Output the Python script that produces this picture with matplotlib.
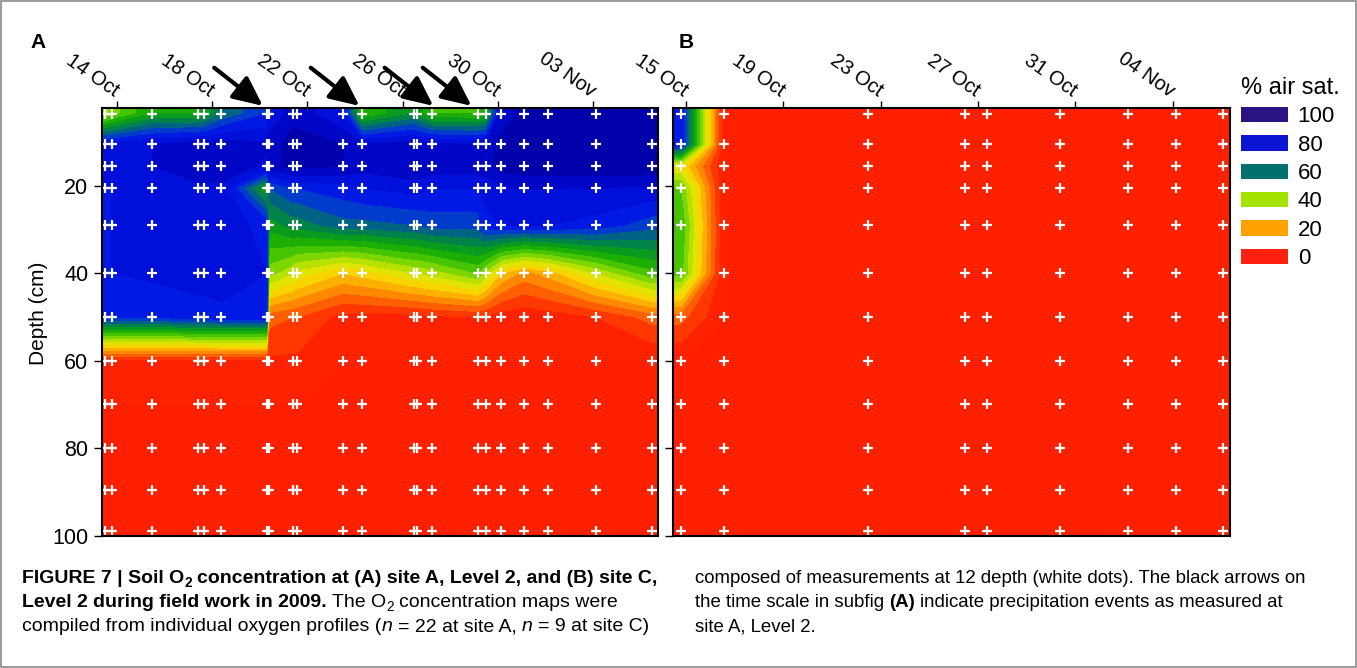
import numpy as np
import matplotlib
matplotlib.use('Agg')
import matplotlib.pyplot as plt
from matplotlib.colors import LinearSegmentedColormap
from matplotlib.patches import Patch, Rectangle

plt.rcParams['font.family'] = ['Liberation Sans', 'DejaVu Sans']

# measurement depths (cm), shared by both sites
depths = [3.5, 10.5, 15.5, 20.5, 29, 40, 50, 60, 70, 80, 89.5, 99]

# site A: profile times (days after 14 Oct) and O2 (% air sat.), one row per depth
days_a = [-0.49, -0.21, 1.49, 3.42, 3.68, 4.38, 6.30, 6.40, 7.41, 7.55, 9.51,
          10.28, 12.49, 12.60, 13.24, 15.15, 15.49, 16.11, 17.10, 18.11, 20.10, 22.45]
o2_a = [
    [38, 42, 55, 55, 56, 65, 75, 80, 88, 88, 80, 50, 60, 58, 50, 50, 52, 85, 93, 95, 95, 95],
    [82, 82, 85, 88, 88, 88, 86, 88, 92, 92, 90, 85, 88, 88, 86, 85, 86, 92, 95, 95, 95, 95],
    [82, 82, 85, 88, 88, 88, 84, 88, 92, 92, 90, 87, 90, 90, 88, 88, 88, 92, 94, 94, 94, 94],
    [80, 80, 82, 84, 84, 84, 55, 70, 75, 75, 78, 80, 82, 82, 80, 80, 82, 84, 85, 85, 85, 84],
    [80, 80, 82, 83, 83, 83, 78, 57, 62, 62, 68, 68, 70, 70, 72, 72, 78, 80, 80, 80, 78, 72],
    [80, 80, 81, 82, 82, 82, 80, 42, 35, 33, 25, 27, 35, 35, 37, 45, 38, 25, 18, 22, 35, 48],
    [75, 75, 76, 78, 78, 79, 79, 12, 10, 10, 3, 3, 3, 3, 4, 5, 4, 2, 1, 2, 5, 12],
    [3, 3, 3, 3, 3, 3, 3, 4, 4, 4, 0, 0, 0, 0, 0, 0, 0, 0, 0, 0, 0, 0],
    [0] * 22,
    [0] * 22,
    [0] * 22,
    [0] * 22,
]

# site C: profile times (days after 15 Oct)
days_b = [-0.22, 1.56, 7.49, 11.47, 12.36, 15.37, 18.18, 20.14, 22.08]
o2_b = [
    [80, 0, 0, 0, 0, 0, 0, 0, 0],
    [80, 0, 0, 0, 0, 0, 0, 0, 0],
    [30, 0, 0, 0, 0, 0, 0, 0, 0],
    [45, 0, 0, 0, 0, 0, 0, 0, 0],
    [50, 0, 0, 0, 0, 0, 0, 0, 0],
    [47, 0, 0, 0, 0, 0, 0, 0, 0],
    [12, 0, 0, 0, 0, 0, 0, 0, 0],
    [0] * 9,
    [0] * 9,
    [0] * 9,
    [0] * 9,
    [0] * 9,
]

# precipitation events at site A (days after 14 Oct)
rain_days = [6.25, 10.3, 13.4, 15.0]

ticks = [0, 4, 8, 12, 16, 20]
labels_a = ['14 Oct', '18 Oct', '22 Oct', '26 Oct', '30 Oct', '03 Nov']
labels_b = ['15 Oct', '19 Oct', '23 Oct', '27 Oct', '31 Oct', '04 Nov']
depth_ticks = [20, 40, 60, 80, 100]

legend_values = ['100', '80', '60', '40', '20', '0']
legend_colors = ['#2a1280', '#0a14d2', '#00706e', '#a2e400', '#ffa200', '#ff2010']

cmap = LinearSegmentedColormap.from_list('o2', [
    (0.00, '#ff2000'), (0.05, '#ff2400'), (0.12, '#ff5a00'), (0.20, '#ffa000'),
    (0.30, '#f5e600'), (0.38, '#b4e100'), (0.45, '#5ccf00'), (0.52, '#1fb000'),
    (0.60, '#00922a'), (0.66, '#006e6e'), (0.72, '#0040c8'), (0.78, '#0018e6'),
    (0.86, '#0008d0'), (0.93, '#0000a8'), (1.00, '#0a0a78')])
levels = np.arange(0, 101, 5)

W, H = 1357, 668
fig = plt.figure(figsize=(W / 100, H / 100), dpi=100)


def make_panel(rect, days, o2, xlim, tick_labels, show_ylabels):
    ax = fig.add_axes(rect)
    ylim = (100.1, 2.2)
    # stretch edge profiles out to the frame so the map fills the panel
    x = np.concatenate([[xlim[0]], days, [xlim[1]]])
    y = np.concatenate([[ylim[1]], depths, [ylim[0]]])
    z = np.pad(np.array(o2, dtype=float), 1, mode='edge')
    ax.contourf(x, y, z, levels=levels, cmap=cmap, extend='both')
    dx, dy = np.meshgrid(days, depths)
    ax.plot(dx.ravel(), dy.ravel(), '+', color='white', ms=6.5, mew=1.6)
    ax.set_xlim(xlim)
    ax.set_ylim(ylim)
    ax.xaxis.tick_top()
    ax.set_xticks(ticks)
    ax.set_xticklabels(tick_labels, rotation=-35, ha='right', va='center',
                       rotation_mode='anchor', fontsize=14.5)
    ax.tick_params(axis='x', direction='out', length=5, width=1, pad=6)
    ax.tick_params(axis='y', direction='out', length=6, width=1, pad=4, labelsize=15.5)
    ax.set_yticks(depth_ticks)
    if not show_ylabels:
        ax.set_yticklabels([])
    for sp in ax.spines.values():
        sp.set_linewidth(1.5)
    return ax


ax_a = make_panel([102.3 / W, 1 - 536 / H, 555.4 / W, 428 / H], days_a, o2_a,
                  (-0.60, 22.70), labels_a, True)
ax_a.set_ylabel('Depth (cm)', fontsize=15)
ax_a.yaxis.set_label_coords(-0.098, 0.52)

ax_b = make_panel([673.3 / W, 1 - 536 / H, 556.7 / W, 428 / H], days_b, o2_b,
                  (-0.52, 22.36), labels_b, False)

# precipitation arrows above panel A
for d in rain_days:
    ax_a.annotate('', xy=(d, 1.0), xycoords=('data', 'axes fraction'),
                  xytext=(-37, 29), textcoords='offset points', annotation_clip=False,
                  arrowprops=dict(arrowstyle='-|>,head_length=0.9,head_width=0.42',
                                  color='black', lw=3, mutation_scale=20,
                                  shrinkA=0, shrinkB=2.5))

fig.text(30 / W, 1 - 42 / H, 'A', fontsize=15, fontweight='bold', va='center')
fig.text(679 / W, 1 - 42 / H, 'B', fontsize=15, fontweight='bold', va='center')

handles = [Patch(facecolor=c, edgecolor='none') for c in legend_colors]
leg = fig.legend(handles, legend_values, title='% air sat.', loc='upper left',
                 bbox_to_anchor=(1241 / W, 1 - 77 / H), frameon=False, fontsize=16,
                 title_fontsize=17, handlelength=2.1, handleheight=0.68,
                 labelspacing=0.33, handletextpad=0.45, borderpad=0, borderaxespad=0,
                 alignment='left')

# caption in two columns
cap_font = ['Liberation Sans Narrow', 'Liberation Sans', 'DejaVu Sans']
renderer = fig.canvas.get_renderer()


def space_width(size, **kw):
    t1 = fig.text(0, 0, 'x x', family=cap_font, fontsize=size, **kw)
    t2 = fig.text(0, 0, 'xx', family=cap_font, fontsize=size, **kw)
    w = t1.get_window_extent(renderer).width - t2.get_window_extent(renderer).width
    t1.remove()
    t2.remove()
    return w


def caption_line(x, y, runs, cap_size):
    for text, kw in runs:
        kw = dict(kw)
        sub = kw.pop('sub', False)
        sp = space_width(cap_size, **kw)
        if text.startswith(' '):
            x += sp
        size = cap_size * 0.7 if sub else cap_size
        yy = y + 4 if sub else y
        t = fig.text(x / W, 1 - yy / H, text.strip(), family=cap_font, fontsize=size,
                     va='baseline', ha='left', **kw)
        x += t.get_window_extent(renderer).width
        if text.endswith(' '):
            x += sp


B = dict(fontweight='bold')
N = dict()
I = dict(style='italic')

caption_line(22, 583, [('FIGURE 7 | Soil O', B), ('2', dict(B, sub=True)),
                       (' concentration at (A) site A, Level 2, and (B) site C,', B)], 14)
caption_line(22, 607, [('Level 2 during field work in 2009.', B), (' The O', N),
                       ('2', dict(sub=True)), (' concentration maps were', N)], 14)
caption_line(22, 631, [('compiled from individual oxygen profiles (', N), ('n', I),
                       (' = 22 at site A, ', N), ('n', I), (' = 9 at site C)', N)], 14)
caption_line(695, 583, [('composed of measurements at 12 depth (white dots). The black arrows on', N)], 13.4)
caption_line(695, 607, [('the time scale in subfig ', N), ('(A)', B),
                        (' indicate precipitation events as measured at', N)], 13.4)
caption_line(695, 631, [('site A, Level 2.', N)], 13.4)

fig.patches.append(Rectangle((0.001, 0.002), 0.998, 0.996, transform=fig.transFigure,
                             fill=False, edgecolor='#8a8a8a', lw=1.2))

fig.savefig('out.png', dpi=100)
